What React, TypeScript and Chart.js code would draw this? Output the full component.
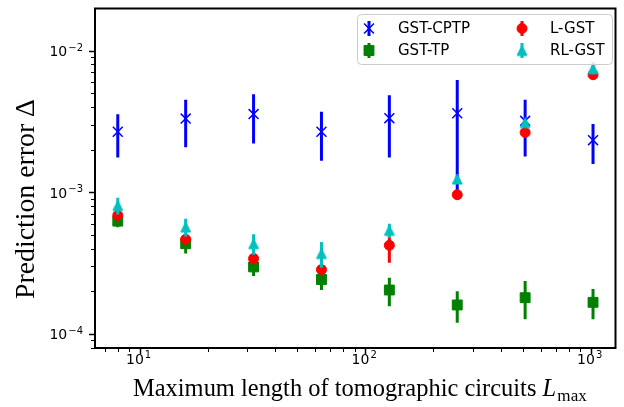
import React, { useEffect, useRef } from "react";
import { Chart, registerables } from "chart.js";
import { drawPoint } from "chart.js/helpers";

Chart.register(...registerables);

// ---------------- data ----------------
const circuitLengths = [8, 16, 32, 64, 128, 256, 512, 1024];

const cptpMean = [2.67e-3, 3.31e-3, 3.56e-3, 2.67e-3, 3.33e-3, 3.61e-3, 3.19e-3, 2.33e-3];
const cptpLower = [1.76e-3, 2.08e-3, 2.21e-3, 1.67e-3, 1.76e-3, 0.95e-3, 1.79e-3, 1.58e-3];
const cptpUpper = [3.55e-3, 4.49e-3, 4.92e-3, 3.7e-3, 4.84e-3, 6.2e-3, 4.49e-3, 3.03e-3];

const tpMean = [6.25e-4, 4.33e-4, 2.97e-4, 2.42e-4, 2.04e-4, 1.6e-4, 1.8e-4, 1.67e-4];
const tpLower = [5.65e-4, 3.69e-4, 2.56e-4, 2.04e-4, 1.57e-4, 1.2e-4, 1.27e-4, 1.27e-4];
const tpUpper = [6.85e-4, 4.97e-4, 3.38e-4, 2.8e-4, 2.49e-4, 2.0e-4, 2.36e-4, 2.07e-4];

const lgstMean = [6.86e-4, 4.65e-4, 3.4e-4, 2.84e-4, 4.22e-4, 9.6e-4, 2.64e-3, 6.75e-3];
const lgstLower = [6.3e-4, 4.3e-4, 3.1e-4, 2.6e-4, 3.18e-4, 9.2e-4, 2.5e-3, 6.5e-3];
const lgstUpper = [7.4e-4, 5.0e-4, 3.7e-4, 3.1e-4, 5.26e-4, 1.0e-3, 2.78e-3, 7.0e-3];

const rlgstMean = [8.05e-4, 5.68e-4, 4.33e-4, 3.69e-4, 5.38e-4, 1.24e-3, 3.1e-3, 7.45e-3];
const rlgstLower = [6.96e-4, 4.86e-4, 3.62e-4, 2.93e-4, 4.76e-4, 1.18e-3, 2.95e-3, 6.8e-3];
const rlgstUpper = [9.14e-4, 6.5e-4, 5.04e-4, 4.45e-4, 6.0e-4, 1.3e-3, 3.25e-3, 8.3e-3];

const seriesLabels = ["GST-CPTP", "GST-TP", "L-GST", "RL-GST"];

const tickBase = "10";
const xMajorTicks = [10, 100, 1000];
const xTickExponents = ["1", "2", "3"];
const yMajorTicks = [1e-4, 1e-3, 1e-2];
const yTickExponents = ["\u22124", "\u22123", "\u22122"];
const minorMultipliers = [2, 3, 4, 5, 6, 7, 8, 9];
const xDecades = [1, 10, 100, 1000];
const yDecades = [1e-5, 1e-4, 1e-3, 1e-2];

const xTitle = "Maximum length of tomographic circuits ";
const xTitleVar = "L";
const xTitleSub = "max";
const yTitle = "Prediction error Δ";

// ---------------- helpers ----------------
const X_MIN = 6.34;
const X_MAX = 1288;
const Y_MIN = 7.95e-5;
const Y_MAX = 0.0198;

function buildTicks(majors: number[], decades: number[], min: number, max: number) {
  const vals: number[] = [];
  decades.forEach((d) => {
    vals.push(d);
    minorMultipliers.forEach((m) => vals.push(d * m));
  });
  majors.forEach((m) => vals.push(m));
  return Array.from(new Set(vals.map((v) => +v.toPrecision(6))))
    .filter((v) => v >= min && v <= max)
    .sort((a, b) => a - b);
}

function majorIndex(v: number, majors: number[]) {
  return majors.findIndex((m) => Math.abs(v - m) / m < 1e-6);
}

function makeTriangle(color: string) {
  const c = document.createElement("canvas");
  c.width = 14;
  c.height = 14;
  const g = c.getContext("2d")!;
  const h = 5;
  g.beginPath();
  g.moveTo(7, 7 - h);
  g.lineTo(7 - h, 7 + h);
  g.lineTo(7 + h, 7 + h);
  g.closePath();
  g.fillStyle = color;
  g.strokeStyle = color;
  g.lineWidth = 1;
  g.fill();
  g.stroke();
  return c;
}

const toPoints = (ys: number[]) => circuitLengths.map((x, i) => ({ x, y: ys[i] }));

const TICK_FONT = '"DejaVu Sans"';

// ---------------- plugins ----------------
const errorBarPlugin = {
  id: "errorBars",
  beforeDatasetDraw(chart: any, args: any) {
    const ds = chart.data.datasets[args.index];
    if (!ds.errLow) return;
    const { ctx, chartArea, scales } = chart;
    ctx.save();
    ctx.beginPath();
    ctx.rect(chartArea.left, chartArea.top, chartArea.right - chartArea.left, chartArea.bottom - chartArea.top);
    ctx.clip();
    ctx.strokeStyle = ds.borderColor;
    ctx.lineWidth = 3;
    ctx.lineCap = "butt";
    ds.data.forEach((p: any, i: number) => {
      const x = scales.x.getPixelForValue(p.x);
      const y1 = scales.y.getPixelForValue(ds.errLow[i]);
      const y2 = scales.y.getPixelForValue(ds.errHigh[i]);
      ctx.beginPath();
      ctx.moveTo(x, y1);
      ctx.lineTo(x, y2);
      ctx.stroke();
    });
    ctx.restore();
  },
};

function drawPowerLabel(ctx: CanvasRenderingContext2D, exp: string, x: number, baseline: number, align: "right" | "center") {
  ctx.font = `14px ${TICK_FONT}`;
  const wb = ctx.measureText(tickBase).width;
  ctx.font = `10px ${TICK_FONT}`;
  const we = ctx.measureText(exp).width;
  const total = wb + we + 1;
  const start = align === "right" ? x - total : x - total / 2;
  ctx.textAlign = "left";
  ctx.textBaseline = "alphabetic";
  ctx.font = `14px ${TICK_FONT}`;
  ctx.fillText(tickBase, start, baseline);
  ctx.font = `10px ${TICK_FONT}`;
  ctx.fillText(exp, start + wb + 1, baseline - 5.5);
}

const decorPlugin = {
  id: "decor",
  afterDraw(chart: any) {
    const { ctx, chartArea, scales } = chart;
    const { left, right, top, bottom } = chartArea;
    ctx.save();
    ctx.strokeStyle = "#000";
    ctx.fillStyle = "#000";
    // x ticks and labels
    scales.x.ticks.forEach((t: any) => {
      const p = scales.x.getPixelForValue(t.value);
      const px = Math.round(p) + 0.5;
      const mi = majorIndex(t.value, xMajorTicks);
      ctx.lineWidth = mi >= 0 ? 1.5 : 1;
      ctx.beginPath();
      ctx.moveTo(px, bottom);
      ctx.lineTo(px, bottom + (mi >= 0 ? 6 : 4));
      ctx.stroke();
      if (mi >= 0) drawPowerLabel(ctx, xTickExponents[mi], p - 1, bottom + 15.5, "center");
    });
    // y ticks and labels
    scales.y.ticks.forEach((t: any) => {
      const p = scales.y.getPixelForValue(t.value);
      const py = Math.round(p) + 0.5;
      const mi = majorIndex(t.value, yMajorTicks);
      ctx.lineWidth = mi >= 0 ? 1.5 : 1;
      ctx.beginPath();
      ctx.moveTo(left, py);
      ctx.lineTo(left - (mi >= 0 ? 6 : 4), py);
      ctx.stroke();
      if (mi >= 0) drawPowerLabel(ctx, yTickExponents[mi], left - 12, p + 5.5, "right");
    });
    // frame
    ctx.lineWidth = 2;
    ctx.strokeRect(left, top, right - left, bottom - top);

    // x title
    const family = '"Liberation Serif", serif';
    ctx.font = `20px ${family}`;
    const w0 = ctx.measureText(xTitle).width;
    ctx.font = `italic 20px ${family}`;
    const w1 = ctx.measureText(xTitleVar).width;
    ctx.font = `14px ${family}`;
    const w2 = ctx.measureText(xTitleSub).width;
    const fs = (20 * 454) / (w0 + w1 + w2 + 1);
    ctx.textBaseline = "alphabetic";
    ctx.textAlign = "left";
    let x = 360 - 227;
    const base = 396;
    ctx.font = `${fs}px ${family}`;
    ctx.fillText(xTitle, x, base);
    x += ctx.measureText(xTitle).width;
    ctx.font = `italic ${fs}px ${family}`;
    ctx.fillText(xTitleVar, x, base);
    x += ctx.measureText(xTitleVar).width + fs * 0.05;
    ctx.font = `${fs * 0.7}px ${family}`;
    ctx.fillText(xTitleSub, x, base + fs * 0.22);

    // y title
    ctx.font = `20px ${family}`;
    const wy = ctx.measureText(yTitle).width;
    const fy = Math.min((20 * 200) / wy, fs * 1.15);
    ctx.save();
    ctx.translate(34, 199);
    ctx.rotate(-Math.PI / 2);
    ctx.font = `${fy}px ${family}`;
    ctx.textAlign = "center";
    ctx.fillText(yTitle, 0, 0);
    ctx.restore();

    // legend
    const lx = 357.5, ly = 14.5, lw = 255, lh = 50;
    ctx.beginPath();
    (ctx as any).roundRect(lx, ly, lw, lh, 4);
    ctx.fillStyle = "rgba(255,255,255,0.8)";
    ctx.fill();
    ctx.strokeStyle = "#cccccc";
    ctx.lineWidth = 1;
    ctx.stroke();

    const slots = [
      { ds: 0, mx: 369, tx: 398, y: 28.5 },
      { ds: 1, mx: 369, tx: 398, y: 50.5 },
      { ds: 2, mx: 522, tx: 550, y: 28.5 },
      { ds: 3, mx: 522, tx: 550, y: 50.5 },
    ];
    slots.forEach((s) => {
      const ds = chart.data.datasets[s.ds];
      ctx.strokeStyle = ds.borderColor;
      ctx.lineWidth = 3;
      ctx.beginPath();
      ctx.moveTo(s.mx, s.y - 7.5);
      ctx.lineTo(s.mx, s.y + 7.5);
      ctx.stroke();
      ctx.fillStyle = ds.backgroundColor;
      ctx.strokeStyle = ds.borderColor;
      ctx.lineWidth = ds.pointBorderWidth;
      drawPoint(ctx, { pointStyle: ds.pointStyle, radius: ds.pointRadius, rotation: 0, borderWidth: ds.pointBorderWidth } as any, s.mx, s.y);
      ctx.fillStyle = "#000";
      ctx.font = `15px ${TICK_FONT}`;
      ctx.textAlign = "left";
      ctx.textBaseline = "middle";
      ctx.fillText(seriesLabels[s.ds], s.tx, s.y + 0.5);
    });
    ctx.restore();
  },
};

function zeroPadding(scale: any) {
  scale.paddingTop = 0;
  scale.paddingBottom = 0;
  scale.paddingLeft = 0;
  scale.paddingRight = 0;
}

export default function App() {
  const ref = useRef<HTMLCanvasElement>(null);
  useEffect(() => {
    document.body.style.margin = "0";
    const tri = makeTriangle("#00bfbf");
    const xTicks = buildTicks(xMajorTicks, xDecades, X_MIN, X_MAX);
    const yTicks = buildTicks(yMajorTicks, yDecades, Y_MIN, Y_MAX);
    const chart = new Chart(ref.current!, {
      type: "scatter",
      data: {
        datasets: [
          {
            label: seriesLabels[0],
            data: toPoints(cptpMean),
            errLow: cptpLower,
            errHigh: cptpUpper,
            borderColor: "#0000ff",
            backgroundColor: "#0000ff",
            pointStyle: "crossRot",
            pointRadius: 7,
            pointBorderWidth: 1.5,
            order: 4,
          } as any,
          {
            label: seriesLabels[1],
            data: toPoints(tpMean),
            errLow: tpLower,
            errHigh: tpUpper,
            borderColor: "#008000",
            backgroundColor: "#008000",
            pointStyle: "rect",
            pointRadius: 7,
            pointBorderWidth: 1,
            order: 3,
          } as any,
          {
            label: seriesLabels[2],
            data: toPoints(lgstMean),
            errLow: lgstLower,
            errHigh: lgstUpper,
            borderColor: "#ff0000",
            backgroundColor: "#ff0000",
            pointStyle: "circle",
            pointRadius: 5,
            pointBorderWidth: 1,
            order: 2,
          } as any,
          {
            label: seriesLabels[3],
            data: toPoints(rlgstMean),
            errLow: rlgstLower,
            errHigh: rlgstUpper,
            borderColor: "#00bfbf",
            backgroundColor: "#00bfbf",
            pointStyle: tri,
            pointRadius: 6,
            pointBorderWidth: 1,
            order: 1,
          } as any,
        ],
      },
      options: {
        animation: false,
        responsive: false,
        devicePixelRatio: 1,
        layout: { padding: { top: 7, right: 4, left: 0, bottom: 0 } },
        plugins: { legend: { display: false }, tooltip: { enabled: false } },
        scales: {
          x: {
            type: "logarithmic",
            position: "bottom",
            min: X_MIN,
            max: X_MAX,
            grid: { display: false, drawTicks: false, tickLength: 0 },
            border: { display: false },
            afterBuildTicks: (scale: any) => {
              scale.ticks = xTicks.map((v) => ({ value: v, major: majorIndex(v, xMajorTicks) >= 0 }));
            },
            afterFit: (scale: any) => {
              scale.height = 59;
              zeroPadding(scale);
            },
            ticks: { display: false, autoSkip: false, maxRotation: 0 },
          },
          y: {
            type: "logarithmic",
            position: "left",
            min: Y_MIN,
            max: Y_MAX,
            grid: { display: false, drawTicks: false, tickLength: 0 },
            border: { display: false },
            afterBuildTicks: (scale: any) => {
              scale.ticks = yTicks.map((v) => ({ value: v, major: majorIndex(v, yMajorTicks) >= 0 }));
            },
            afterFit: (scale: any) => {
              scale.width = 95;
              zeroPadding(scale);
            },
            ticks: { display: false, autoSkip: false },
          },
        },
      },
      plugins: [errorBarPlugin, decorPlugin],
    } as any);
    return () => chart.destroy();
  }, []);
  return (
    <div style={{ width: 624, height: 407 }}>
      <canvas ref={ref} width={624} height={407} style={{ display: "block" }} />
    </div>
  );
}
